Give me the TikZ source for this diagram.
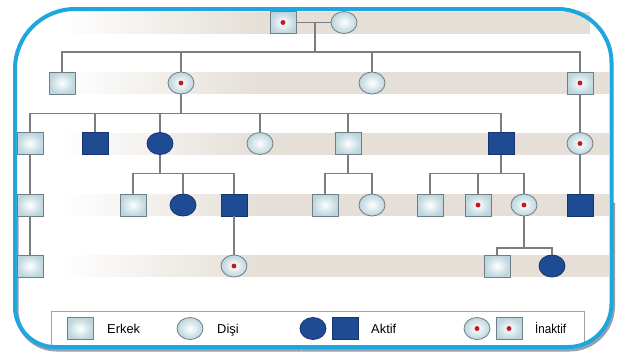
\documentclass[tikz,border=0pt]{standalone}
\usepackage{fontspec}
\setmainfont{Liberation Sans}
\usepackage{xcolor}
\usetikzlibrary{shapes.geometric, calc, fadings}

\definecolor{framec}{RGB}{30,166,222}
\definecolor{shadowc}{RGB}{150,160,170}
\definecolor{bandc}{RGB}{229,223,215}
\definecolor{linec}{RGB}{122,126,131}
\definecolor{lightc}{RGB}{188,213,221}
\definecolor{edgec}{RGB}{112,127,135}
\definecolor{darkc}{RGB}{30,76,148}
\definecolor{darkedge}{RGB}{22,52,110}
\definecolor{dotc}{RGB}{200,22,35}
\definecolor{boxc}{RGB}{160,162,165}

\tikzset{
  base/.style={minimum width=0.78cm, minimum height=0.66cm, inner sep=0pt, line width=0.7pt},
  erkek/.style={base, rectangle, draw=edgec, inner color=white, outer color=lightc},
  disi/.style={base, ellipse, draw=edgec, inner color=white, outer color=lightc},
  aktifE/.style={base, rectangle, draw=darkedge, fill=darkc},
  aktifD/.style={base, ellipse, draw=darkedge, fill=darkc},
  inaktif/.style={path picture={\fill[dotc] (path picture bounding box.center) circle (2.1pt);}},
  link/.style={draw=linec, line width=1.1pt},
  legendtext/.style={font=\fontsize{11}{13}\selectfont, anchor=base west, inner sep=0pt},
}

\begin{document}
\begin{tikzpicture}[
  x=0.03cm, y=-0.03cm,
]
  \useasboundingbox (0,0) rectangle (618,353);

  % ── Bands ──
  \fill[bandc] (65,11.5) rectangle (590,33.5);
  \fill[white, path fading=east] (65,11.5) rectangle (260,33.5);
  \foreach \y in {83,143.5,205,266} {
    \fill[bandc] (65,\y-11) rectangle (609,\y+11);
    \fill[white, path fading=east] (65,\y-11) rectangle (260,\y+11);
  }

  % ── Legend box ──
  \draw[boxc, line width=0.6pt, fill=white] (51,311) rectangle (584,346);

  % ── Frame ──
  \begin{scope}[shift={(1.5,2.5)}, shadowc, line width=0.12cm]
    \draw[rounded corners=1.3cm] (611.5,200) -- (611.5,347) -- (300,347);
    \draw[rounded corners=1.2cm] (300,347) -- (15,347) -- (15,200);
  \end{scope}
  \begin{scope}[framec, line width=0.12cm]
    \draw[rounded corners=1.8cm] (15,200) -- (15,9) -- (330,9);
    \draw[rounded corners=1.6cm] (330,9) -- (611.5,9) -- (611.5,200);
    \draw[rounded corners=1.3cm] (611.5,200) -- (611.5,347) -- (300,347);
    \draw[rounded corners=1.2cm] (300,347) -- (15,347) -- (15,200);
  \end{scope}

  % ── Generation I ──
  \node[erkek, inaktif] (g1a) at (283,22.5) {};
  \node[disi] (g1b) at (344,22.5) {};

  % ── Generation II ──
  \node[erkek] (g2a) at (62,83) {};
  \node[disi, inaktif] (g2b) at (181,83) {};
  \node[disi] (g2c) at (372,83) {};
  \node[erkek, inaktif] (g2d) at (580,83) {};

  % ── Generation III ──
  \node[erkek] (g3a) at (30,143.5) {};
  \node[aktifE] (g3b) at (95,143.5) {};
  \node[aktifD] (g3c) at (160,143.5) {};
  \node[disi] (g3d) at (260,143.5) {};
  \node[erkek] (g3e) at (348,143.5) {};
  \node[aktifE] (g3f) at (501,143.5) {};
  \node[disi, inaktif] (g3g) at (580,143.5) {};

  % ── Generation IV ──
  \node[erkek] (g4a) at (30,205) {};
  \node[erkek] (g4b) at (133,205) {};
  \node[aktifD] (g4c) at (183,205) {};
  \node[aktifE] (g4d) at (234,205) {};
  \node[erkek] (g4e) at (325,205) {};
  \node[disi] (g4f) at (372,205) {};
  \node[erkek] (g4g) at (430,205) {};
  \node[erkek, inaktif] (g4h) at (478,205) {};
  \node[disi, inaktif] (g4i) at (524,205) {};
  \node[aktifE] (g4j) at (580,205) {};

  % ── Generation V ──
  \node[erkek] (g5a) at (30,266) {};
  \node[disi, inaktif] (g5b) at (234,266) {};
  \node[erkek] (g5c) at (497,266) {};
  \node[aktifD] (g5d) at (552,266) {};

  % ── Lines ──
  \coordinate (m1) at (315,22.5);
  \coordinate (s1) at (315,52);
  \coordinate (s2) at (181,113.5);
  \coordinate (s3) at (160,173.5);
  \coordinate (s4) at (348,173.5);
  \coordinate (s5) at (501,173.5);
  \coordinate (s6) at (524,248);

  \draw[link] (g1a) -- (g1b);
  \draw[link] (m1) -- (s1);
  \draw[link] (g2a.north) |- (s1) -| (g2d.north);
  \draw[link] (g2b.north) -- (g2b.north |- s1);
  \draw[link] (g2c.north) -- (g2c.north |- s1);

  \draw[link] (g2b.south) -- (s2);
  \draw[link] (g3a.north) |- (s2) -| (g3f.north);
  \foreach \n in {g3b,g3c,g3d,g3e}
    \draw[link] (\n.north) -- (\n.north |- s2);
  \draw[link] (g2d) -- (g3g);

  \draw[link] (g3a) -- (g4a);
  \draw[link] (g4a) -- (g5a);
  \draw[link] (g3c.south) -- (s3);
  \draw[link] (g4b.north) |- (s3) -| (g4d.north);
  \draw[link] (g4c.north) -- (g4c.north |- s3);
  \draw[link] (g3e.south) -- (s4);
  \draw[link] (g4e.north) |- (s4) -| (g4f.north);
  \draw[link] (g3f.south) -- (s5);
  \draw[link] (g4g.north) |- (s5) -| (g4i.north);
  \draw[link] (g4h.north) -- (g4h.north |- s5);
  \draw[link] (g3g) -- (g4j);

  \draw[link] (g4d) -- (g5b);
  \draw[link] (g4i.south) -- (s6);
  \draw[link] (g5c.north) |- (s6) -| (g5d.north);

  % ── Legend ──
  \node[erkek] (lerkek) at (80,328.5) {};
  \node[legendtext] (terkek) at (107,333) {Erkek};
  \node[disi] (ldisi) at (190,328.5) {};
  \node[legendtext] (tdisi) at (217,333) {Dişi};
  \node[aktifD] (laktifD) at (313,328.5) {};
  \node[aktifE] (laktifE) at (345,328.5) {};
  \node[legendtext] (taktif) at (371,333) {Aktif};
  \node[disi, inaktif] (linaktifD) at (477,328.5) {};
  \node[erkek, inaktif] (linaktifE) at (509,328.5) {};
  \node[legendtext] (tinaktif) at (535,333) {\addfontfeature{FakeStretch=0.9}İnaktif};

\end{tikzpicture}
\end{document}
